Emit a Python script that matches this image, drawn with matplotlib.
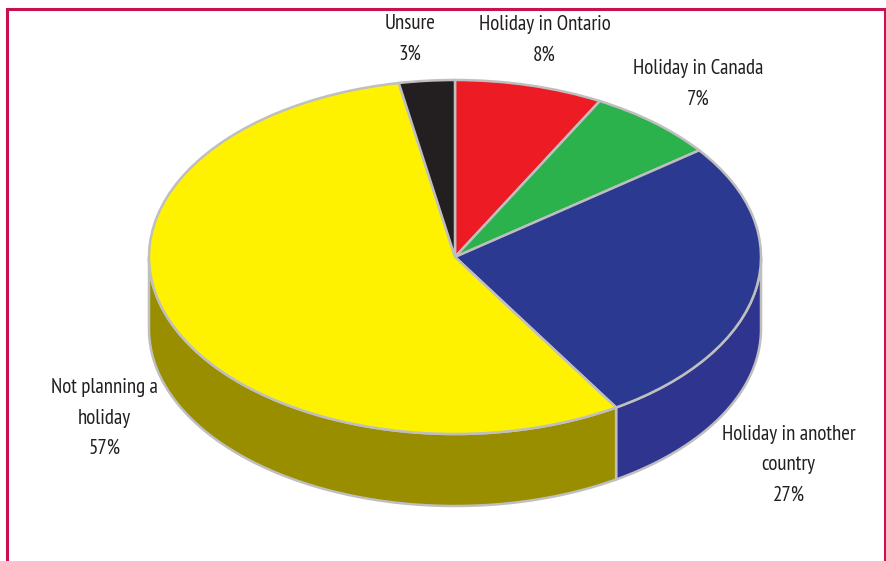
import numpy as np
import matplotlib
matplotlib.use("Agg")
import matplotlib.pyplot as plt
from matplotlib import font_manager as fm
from matplotlib.lines import Line2D

W, H = 887, 561

# Survey shares, clockwise from twelve o'clock
categories = ["Holiday in Ontario", "Holiday in Canada", "Holiday in another\ncountry",
              "Not planning a\nholiday", "Unsure"]
shares = [8, 7, 27, 57, 3]
top_colors = ["#ed1c24", "#2bb24c", "#2b3990", "#fff200", "#231f20"]
side_colors = ["#a01218", "#1c7a33", "#2f358f", "#998d00", "#151314"]
label_centers = [(544.5, 39.5), (698.5, 84), (788.5, 465), (104.5, 418), (410, 38.5)]

EDGE = "#bfbfbf"
FRAME = "#c8124f"
INK = "#231f20"

# Prefer a narrow humanist face for the labels
names = {f.name for f in fm.fontManager.ttflist}
preferred = ["PT Sans Narrow", "Fira Sans Extra Condensed", "Asap Condensed", "Archivo Narrow", "Roboto"]
family = next(n for n in preferred if n in names)

fig = plt.figure(figsize=(W / 100, H / 100), dpi=100, facecolor="white")

# The axes box is the bounding box of the tilted top ellipse
left, right, top, bottom = 149, 761, 80, 434
ax = fig.add_axes([left / W, 1 - bottom / H, (right - left) / W, (bottom - top) / H])
wedges, _ = ax.pie(shares, colors=top_colors, startangle=90, counterclock=False,
                   radius=1, wedgeprops=dict(edgecolor=EDGE, linewidth=1.8, zorder=3))
ax.set_aspect("auto")
ax.set_xlim(-1, 1)
ax.set_ylim(-1, 1)
ax.axis("off")

# Side wall of the disc: the visible part of each slice's rim, dropped by the depth
depth = 2 * 72 / (bottom - top)
cum = np.cumsum([0] + shares) / sum(shares)
for i, color in enumerate(side_colors):
    a0 = 90 - 360 * cum[i]
    a1 = 90 - 360 * cum[i + 1]
    lo, hi = max(a1, -180), min(a0, 0)
    if lo >= hi:
        continue
    t = np.radians(np.linspace(hi, lo, 120))
    xs = np.cos(t)
    ys = np.sin(t)
    ax.fill(np.r_[xs, xs[::-1]], np.r_[ys, ys[::-1] - depth], facecolor=color,
            edgecolor=EDGE, linewidth=1.8, zorder=2, clip_on=False)

for w in wedges:
    w.set_clip_on(False)

for text, (cx, cy), share in zip(categories, label_centers, shares):
    fig.text(cx / W, 1 - cy / H, f"{text}\n{share}%", ha="center", va="center",
             ma="center", family=family, fontsize=15, color=INK, linespacing=1.78)

# Crimson frame, open along the bottom edge
fx0, fx1, fy0 = 7.5, 885, 8.5
fig.add_artist(Line2D([fx0 / W, fx0 / W, fx1 / W, fx1 / W],
                      [0, 1 - fy0 / H, 1 - fy0 / H, 0],
                      color=FRAME, linewidth=2.2, solid_joinstyle="miter"))

fig.savefig("out.png", dpi=100)
